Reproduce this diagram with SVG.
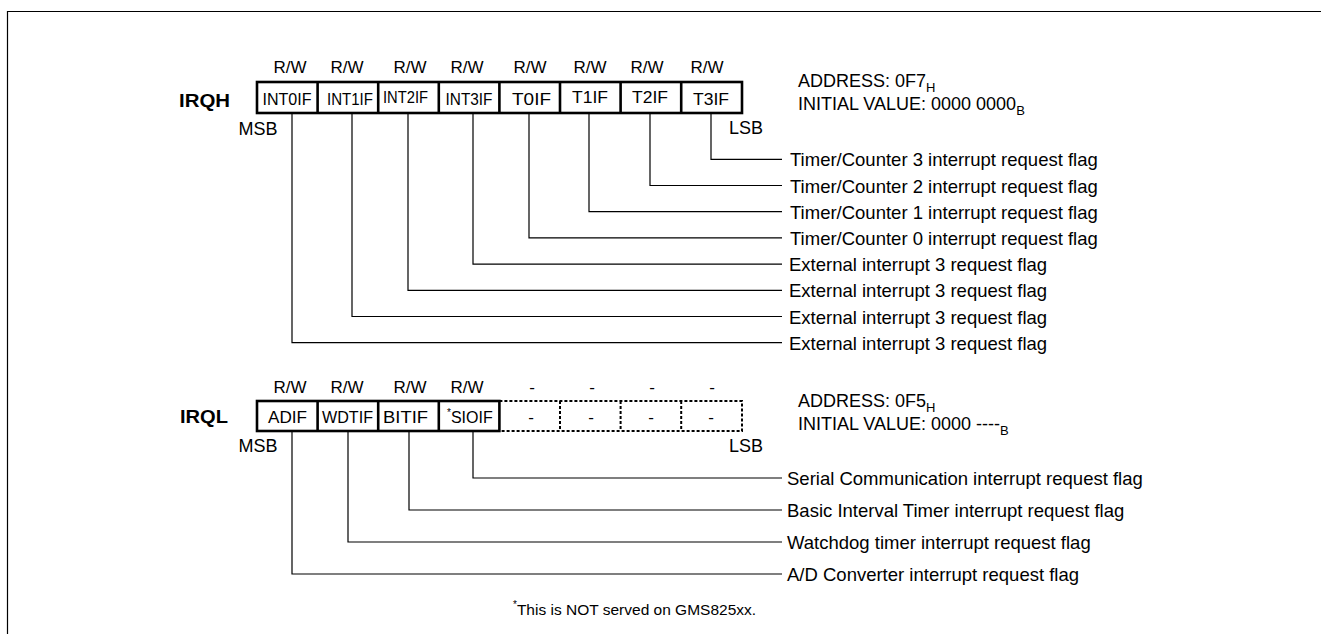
<svg xmlns="http://www.w3.org/2000/svg" width="1321" height="634" viewBox="0 0 1321 634">
<style>
text{font-family:"Liberation Sans",Arial,sans-serif;fill:#000}
.rw{font-size:17px;text-anchor:middle}
.lbl{font-size:18.5px}
.addr{font-size:18px}
.sub{font-size:13px}
.cell{font-size:16px;text-anchor:middle}
.reg{font-size:18px;font-weight:bold}
.ms{font-size:18px;text-anchor:middle}
.box{fill:none;stroke:#000;stroke-width:2.6}
.dot{fill:none;stroke:#000;stroke-width:2;stroke-dasharray:3 2}
.ln{fill:none;stroke:#000;stroke-width:1.2}
</style>
<rect width="1321" height="634" fill="#fff"/>
<g id="frame"><path class="ln" d="M7.5 634V11.5H1321"/></g>

<g id="irqh">
<text class="reg" x="179" y="106.5" textLength="51" lengthAdjust="spacingAndGlyphs">IRQH</text>
<g class="rw-row">
<text class="rw" x="290" y="73">R/W</text>
<text class="rw" x="347" y="73">R/W</text>
<text class="rw" x="410" y="73">R/W</text>
<text class="rw" x="467" y="73">R/W</text>
<text class="rw" x="530" y="73">R/W</text>
<text class="rw" x="590" y="73">R/W</text>
<text class="rw" x="647" y="73">R/W</text>
<text class="rw" x="707" y="73">R/W</text>
</g>
<rect class="box" x="257" y="82" width="485" height="31"/>
<path class="box" d="M317.6 82V113M378.2 82V113M438.8 82V113M499.4 82V113M560 82V113M620.6 82V113M681.2 82V113"/>
<text class="cell" x="287" y="105" textLength="49" lengthAdjust="spacingAndGlyphs">INT0IF</text>
<text class="cell" x="350" y="105" textLength="46" lengthAdjust="spacingAndGlyphs">INT1IF</text>
<text class="cell" x="405.5" y="102.7" textLength="45" lengthAdjust="spacingAndGlyphs">INT2IF</text>
<text class="cell" x="469" y="105" textLength="47" lengthAdjust="spacingAndGlyphs">INT3IF</text>
<text class="cell" x="531.5" y="105" textLength="39" lengthAdjust="spacingAndGlyphs">T0IF</text>
<text class="cell" x="590" y="102.7" textLength="36" lengthAdjust="spacingAndGlyphs">T1IF</text>
<text class="cell" x="650" y="103" textLength="36" lengthAdjust="spacingAndGlyphs">T2IF</text>
<text class="cell" x="711" y="105" textLength="36" lengthAdjust="spacingAndGlyphs">T3IF</text>
<text class="ms" x="258" y="135">MSB</text>
<text class="ms" x="746" y="134">LSB</text>
<text class="addr" x="798" y="86.7">ADDRESS: 0F7<tspan class="sub" dy="5">H</tspan></text>
<text class="addr" x="798" y="110">INITIAL VALUE: 0000 0000<tspan class="sub" dy="5">B</tspan></text>
</g>

<g id="irql">
<text class="reg" x="180" y="423" textLength="48" lengthAdjust="spacingAndGlyphs">IRQL</text>
<text class="rw" x="290" y="393">R/W</text>
<text class="rw" x="347" y="393">R/W</text>
<text class="rw" x="410" y="393">R/W</text>
<text class="rw" x="467" y="393">R/W</text>
<text class="rw" x="532" y="393">-</text>
<text class="rw" x="592" y="393">-</text>
<text class="rw" x="652" y="393">-</text>
<text class="rw" x="712" y="393">-</text>
<path class="dot" d="M499.4 401H742V431H499.4M560 401V431M620.6 401V431M681.2 401V431"/>
<rect class="box" x="257" y="401" width="242.4" height="30"/>
<path class="box" d="M317.6 401V431M378.2 401V431M438.8 401V431"/>
<text class="cell" x="287.5" y="423" textLength="39" lengthAdjust="spacingAndGlyphs">ADIF</text>
<text class="cell" x="347.5" y="423" textLength="51" lengthAdjust="spacingAndGlyphs">WDTIF</text>
<text class="cell" x="405.5" y="423" textLength="45" lengthAdjust="spacingAndGlyphs">BITIF</text>
<text class="cell" x="447" y="423" style="text-anchor:start"><tspan font-size="10" dy="-7">*</tspan><tspan dy="7">SIOIF</tspan></text>
<text class="rw" x="531" y="423">-</text>
<text class="rw" x="591" y="423">-</text>
<text class="rw" x="651" y="423">-</text>
<text class="rw" x="711" y="423">-</text>
<text class="ms" x="258" y="452">MSB</text>
<text class="ms" x="746" y="452">LSB</text>
<text class="addr" x="798" y="406.7">ADDRESS: 0F5<tspan class="sub" dy="5">H</tspan></text>
<text class="addr" x="798" y="430">INITIAL VALUE: 0000 ----<tspan class="sub" dy="5">B</tspan></text>
</g>

<g id="connectors">
<path class="ln" d="M711 113V159.3H782M650 113V185.5H782M589 113V211.7H782M529 113V237.9H782M473 113V264.1H782M408 113V290.3H782M352 113V316.5H782M292 113V342.7H782"/>
<path class="ln" d="M473 431V478H782M409 431V510H782M348 431V542H782M292 431V574H782"/>
</g>

<g id="labels">
<text class="lbl" x="790" y="166.3">Timer/Counter 3 interrupt request flag</text>
<text class="lbl" x="790" y="192.5">Timer/Counter 2 interrupt request flag</text>
<text class="lbl" x="790" y="218.7">Timer/Counter 1 interrupt request flag</text>
<text class="lbl" x="790" y="244.9">Timer/Counter 0 interrupt request flag</text>
<text class="lbl" x="789" y="271.1">External interrupt 3 request flag</text>
<text class="lbl" x="789" y="297.3">External interrupt 3 request flag</text>
<text class="lbl" x="789" y="323.5">External interrupt 3 request flag</text>
<text class="lbl" x="789" y="349.7">External interrupt 3 request flag</text>
<text class="lbl" x="787" y="485">Serial Communication interrupt request flag</text>
<text class="lbl" x="787" y="517">Basic Interval Timer interrupt request flag</text>
<text class="lbl" x="787" y="549">Watchdog timer interrupt request flag</text>
<text class="lbl" x="787" y="581">A/D Converter interrupt request flag</text>
</g>

<g id="footnote">
<text x="513" y="615" font-size="15.5"><tspan font-size="10" dy="-7">*</tspan><tspan dy="7">This is NOT served on GMS825xx.</tspan></text>
</g>
</svg>
